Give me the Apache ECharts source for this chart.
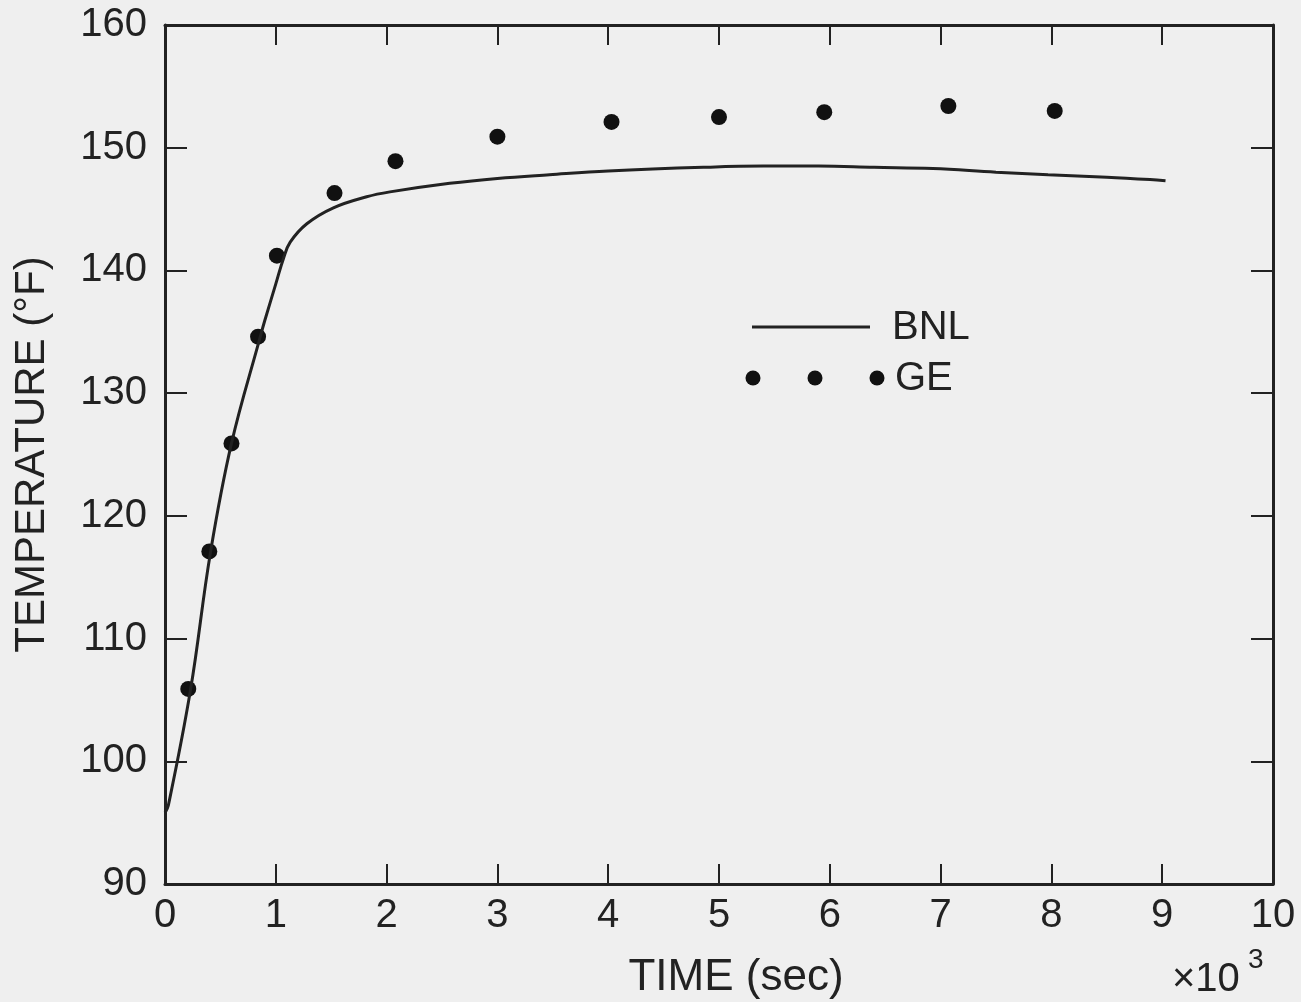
<!DOCTYPE html>
<html>
<head>
<meta charset="utf-8">
<script src="https://cdn.jsdelivr.net/npm/echarts@6/dist/echarts.min.js"></script>
<style>
html,body{margin:0;padding:0;background:#efefef;}
#chart{width:1301px;height:1002px;}
</style>
</head>
<body>
<div id="chart"></div>
<script>
// Time in units of 10^3 sec, temperature in °F
const bnlTime = [0.0, 0.03, 0.23, 0.41, 0.6, 0.86, 0.9, 1.0, 1.07, 1.13, 1.28, 1.52, 1.82, 2.03, 2.57, 3.0, 3.47, 4.0, 4.86, 5.4, 5.9, 6.4, 6.93, 7.5, 7.97, 8.5, 8.89, 9.03];
const bnlTemp = [95.8, 96.4, 105.8, 117.0, 125.9, 134.6, 135.9, 138.9, 141.0, 142.3, 143.8, 145.1, 146.0, 146.4, 147.1, 147.5, 147.8, 148.1, 148.4, 148.5, 148.5, 148.4, 148.3, 148.0, 147.8, 147.6, 147.4, 147.3];
const geTime = [0.21, 0.40, 0.60, 0.84, 1.01, 1.53, 2.08, 3.0, 4.03, 5.0, 5.95, 7.07, 8.03];
const geTemp = [105.9, 117.1, 125.9, 134.6, 141.2, 146.3, 148.9, 150.9, 152.1, 152.5, 152.9, 153.4, 153.0];
const xTicks = {min: 0, max: 10, interval: 1};
const yTicks = {min: 90, max: 160, interval: 10};
const seriesNames = ['BNL', 'GE'];
const xName = 'TIME (sec)';
const yName = 'TEMPERATURE (°F)';

const ink = '#222222';
const font = 'Liberation Sans, Arial, sans-serif';
const chart = echarts.init(document.getElementById('chart'));

const axisLine = {show: true, onZero: false, lineStyle: {color: ink, width: 3}};
const baseX = {type: 'value', min: xTicks.min, max: xTicks.max, interval: xTicks.interval,
  splitLine: {show: false}, axisLine: axisLine};
const baseY = {type: 'value', min: yTicks.min, max: yTicks.max, interval: yTicks.interval,
  splitLine: {show: false}, axisLine: axisLine};

chart.setOption({
  backgroundColor: '#efefef',
  animation: false,
  grid: {left: 165, right: 28, top: 25, bottom: 118, containLabel: false, outerBoundsMode: 'none'},
  xAxis: [
    Object.assign({}, baseX, {
      position: 'bottom',
      axisTick: {show: true, inside: true, length: 20, lineStyle: {color: ink, width: 2}},
      axisLabel: {show: true, color: ink, fontSize: 40, fontFamily: font, margin: 12},
      name: xName, nameLocation: 'middle', nameGap: 72,
      nameTextStyle: {color: ink, fontSize: 44, fontFamily: font, padding: [0, 0, 0, 34]}
    }),
    Object.assign({}, baseX, {
      position: 'top',
      axisTick: {show: true, inside: true, length: 20, lineStyle: {color: ink, width: 2}},
      axisLabel: {show: false}
    })
  ],
  yAxis: [
    Object.assign({}, baseY, {
      position: 'left',
      axisTick: {show: true, inside: true, length: 22, lineStyle: {color: ink, width: 2}},
      axisLabel: {show: true, color: ink, fontSize: 40, fontFamily: font, margin: 18},
      name: yName, nameLocation: 'middle', nameGap: 112, nameRotate: 90,
      nameTextStyle: {color: ink, fontSize: 42, fontFamily: font}
    }),
    Object.assign({}, baseY, {
      position: 'right',
      axisTick: {show: true, inside: true, length: 22, lineStyle: {color: ink, width: 2}},
      axisLabel: {show: false}
    })
  ],
  series: [
    {
      name: seriesNames[0], type: 'line', smooth: 0.4, symbol: 'none',
      lineStyle: {color: ink, width: 3},
      data: bnlTime.map((t, i) => [t, bnlTemp[i]])
    },
    {
      name: seriesNames[1], type: 'scatter', symbol: 'circle', symbolSize: 16,
      itemStyle: {color: '#111111', opacity: 1},
      data: geTime.map((t, i) => [t, geTemp[i]])
    }
  ],
  graphic: [
    {type: 'line', shape: {x1: 752, y1: 327, x2: 870, y2: 327}, style: {stroke: ink, lineWidth: 3}},
    {type: 'text', left: 892, top: 308, style: {text: seriesNames[0], fill: ink, fontSize: 40, fontFamily: font}},
    {type: 'circle', shape: {cx: 753, cy: 378, r: 7.5}, style: {fill: '#111111'}},
    {type: 'circle', shape: {cx: 815, cy: 378, r: 7.5}, style: {fill: '#111111'}},
    {type: 'circle', shape: {cx: 877, cy: 378, r: 7.5}, style: {fill: '#111111'}},
    {type: 'text', left: 895, top: 359, style: {text: seriesNames[1], fill: ink, fontSize: 40, fontFamily: font}},
    {type: 'text', left: 1172, top: 960, style: {text: '×10', fill: ink, fontSize: 40, fontFamily: font}},
    {type: 'text', left: 1248, top: 946, style: {text: '3', fill: ink, fontSize: 28, fontFamily: font}}
  ]
});
</script>
</body>
</html>
